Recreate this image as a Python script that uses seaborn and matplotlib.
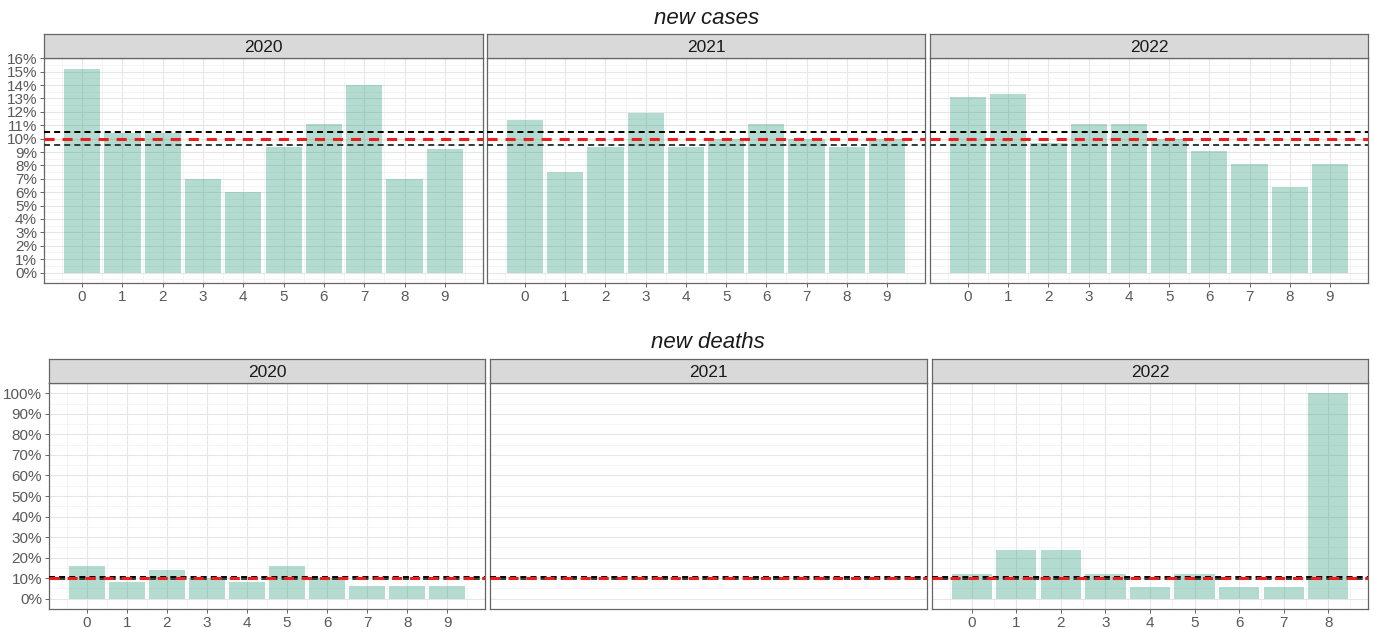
import matplotlib
matplotlib.use('Agg')
import matplotlib.pyplot as plt
from matplotlib.ticker import FixedLocator, FuncFormatter
import numpy as np
import pandas as pd
import seaborn as sns

# first digit shares (%) per year
years = ['2020', '2021', '2022']
case_digits = list(range(10))
cases_2020 = [15.2, 10.4, 10.4, 7.0, 6.0, 9.4, 11.1, 14.0, 7.0, 9.2]
cases_2021 = [11.4, 7.5, 9.4, 11.9, 9.4, 10.0, 11.1, 10.0, 9.4, 10.0]
cases_2022 = [13.1, 13.3, 9.7, 11.1, 11.1, 10.0, 9.1, 8.1, 6.4, 8.1]

death_digits_2020 = list(range(10))
deaths_2020 = [16, 8, 14, 10, 8, 16, 10, 6, 6, 6]
death_digits_2021 = []
deaths_2021 = []
death_digits_2022 = list(range(9))
deaths_2022 = [11.8, 23.5, 23.5, 11.8, 5.9, 11.8, 5.9, 5.9, 100]

expected = 10
band = [9.5, 10.5]

sns.set_style('white')
plt.rcParams['font.family'] = ['Liberation Sans', 'DejaVu Sans']

W, H = 1374, 628
fig = plt.figure(figsize=(W / 100, H / 100), dpi=100)


def rect(x0, x1, y0, y1):
    return [x0 / W, 1 - y1 / H, (x1 - x0) / W, (y1 - y0) / H]


def draw_panel(box, strip_box, year, digits, vals, ylim, yticks, yminor, show_y):
    ax = fig.add_axes(rect(*box))
    if len(digits):
        df = pd.DataFrame({'digit': digits, 'share': vals})
        sns.barplot(data=df, x='digit', y='share', ax=ax, native_scale=True,
                    color='#1b9e77', alpha=0.34, saturation=0.9, width=0.9,
                    linewidth=0, zorder=2)
        n = max(digits)
        pad = 0.05 * (n + 0.9)
        ax.set_xlim(-0.45 - pad, n + 0.45 + pad)
        ax.xaxis.set_major_locator(FixedLocator(digits))
        ax.xaxis.set_minor_locator(FixedLocator(np.arange(-0.5, n + 1, 1)))
        ax.grid(True, axis='x', which='major', color='#E6E6E6', lw=0.8, zorder=0)
        ax.grid(True, axis='x', which='minor', color='#F2F2F2', lw=0.5, zorder=0)
    else:
        ax.set_xlim(0, 1)
        ax.set_xticks([])
    ax.set_ylim(*ylim)
    ax.yaxis.set_major_locator(FixedLocator(yticks))
    ax.yaxis.set_minor_locator(FixedLocator(yminor))
    ax.yaxis.set_major_formatter(FuncFormatter(lambda v, _: f'{v:.0f}%'))
    ax.grid(True, axis='y', which='major', color='#E6E6E6', lw=0.8, zorder=0)
    ax.grid(True, axis='y', which='minor', color='#F2F2F2', lw=0.5, zorder=0)
    ax.set_axisbelow(True)

    ax.axhline(band[1], color='black', lw=1.4, ls=(0, (3.1, 2.1)), zorder=3)
    ax.axhline(expected, color='#ee1c1c', lw=2.2, ls=(0, (3.3, 2.6)), zorder=4)
    ax.axhline(band[0], color='#2f3d39', lw=1.4, ls=(0, (3.1, 2.1)), zorder=3)

    ax.set_xlabel('')
    ax.set_ylabel('')
    for s in ax.spines.values():
        s.set_color('#666666')
        s.set_linewidth(0.9)
    ax.tick_params(axis='both', which='major', length=3, width=0.7, color='#666666',
                   labelcolor='#595959', labelsize=11, pad=2)
    ax.tick_params(axis='both', which='minor', length=0)
    ax.tick_params(axis='x', bottom=len(digits) > 0)
    ax.tick_params(axis='y', left=show_y, labelleft=show_y)

    sax = fig.add_axes(rect(*strip_box))
    sax.set_facecolor('#D9D9D9')
    sax.set_xticks([])
    sax.set_yticks([])
    for s in sax.spines.values():
        s.set_color('#666666')
        s.set_linewidth(0.9)
    sax.text(0.5, 0.45, year, ha='center', va='center', fontsize=12.5,
             color='#1a1a1a', transform=sax.transAxes)
    return ax


# new cases row
top_x = [(44, 483), (487, 925), (930, 1368)]
top_vals = [cases_2020, cases_2021, cases_2022]
for i, (x0, x1) in enumerate(top_x):
    draw_panel((x0, x1, 58, 283), (x0, x1, 34, 58), years[i], case_digits,
               top_vals[i], (-0.78, 16.02), list(range(0, 17)),
               np.arange(-0.5, 16.5, 1), i == 0)

# new deaths row
bot_x = [(49, 485), (490, 927), (932, 1368)]
bot_digits = [death_digits_2020, death_digits_2021, death_digits_2022]
bot_vals = [deaths_2020, deaths_2021, deaths_2022]
for i, (x0, x1) in enumerate(bot_x):
    draw_panel((x0, x1, 383, 609), (x0, x1, 359, 383), years[i], bot_digits[i],
               bot_vals[i], (-5, 105), list(range(0, 101, 10)),
               np.arange(5, 106, 10), i == 0)

fig.text(707 / W, 1 - 18 / H, 'new cases', ha='center', va='center',
         fontsize=16, style='italic', color='#1a1a1a')
fig.text(708 / W, 1 - 342 / H, 'new deaths', ha='center', va='center',
         fontsize=16, style='italic', color='#1a1a1a')

fig.savefig('out.png', dpi=100)
